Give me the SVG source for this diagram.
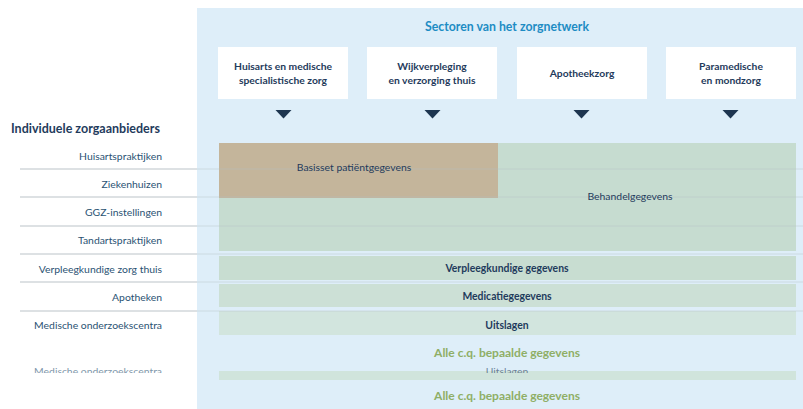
<svg xmlns="http://www.w3.org/2000/svg" width="803" height="409" viewBox="0 0 803 409">
<defs>
<style>
.hdr{font-family:Lato,"Open Sans",sans-serif;font-weight:bold;font-size:10.3px;fill:#1f3b5c;text-anchor:middle}
.row{font-family:Lato,"Open Sans",sans-serif;font-size:10.4px;fill:#2a5273;text-anchor:end}
.band{font-family:Lato,"Open Sans",sans-serif;font-size:10.4px;fill:#1f3b5c;text-anchor:middle}
.bandb{font-family:Lato,"Open Sans",sans-serif;font-size:10.4px;font-weight:bold;fill:#1f3b5c;text-anchor:middle}
.alle{font-family:Lato,"Open Sans",sans-serif;font-size:12px;font-weight:bold;fill:#8fae66;text-anchor:middle}
.box{fill:#ffffff}
.tri{fill:#1d3550}
.sep{stroke:#a9b4ba;stroke-width:0.8}
.sepf{stroke:#b5c2c8;stroke-width:0.8;opacity:0.55}
</style>
<clipPath id="ghost"><rect x="0" y="367" width="803" height="6"/></clipPath>
</defs>
<rect x="0" y="0" width="803" height="409" fill="#ffffff"/>
<rect id="panel" x="197" y="8" width="606" height="401" fill="#deeef9"/>
<text x="507" y="31" font-family="Lato,'Open Sans',sans-serif" font-size="12.3" font-weight="bold" fill="#1d8cc4" text-anchor="middle">Sectoren van het zorgnetwerk</text>
<g id="sector1"><rect class="box" x="218" y="47" width="130" height="52"/><text class="hdr" x="283" y="70">Huisarts en medische</text><text class="hdr" x="283" y="84">specialistische zorg</text><polygon class="tri" points="275.5,110 291.5,110 283.5,118.5"/></g>
<g id="sector2"><rect class="box" x="367" y="47" width="130" height="52"/><text class="hdr" x="432" y="70">Wijkverpleging</text><text class="hdr" x="432" y="84">en verzorging thuis</text><polygon class="tri" points="424.5,110 440.5,110 432.5,118.5"/></g>
<g id="sector3"><rect class="box" x="517" y="47" width="130" height="52"/><text class="hdr" x="582" y="77">Apotheekzorg</text><polygon class="tri" points="573.5,110 589.5,110 581.5,118.5"/></g>
<g id="sector4"><rect class="box" x="666" y="47" width="130" height="52"/><text class="hdr" x="731" y="70">Paramedische</text><text class="hdr" x="731" y="84">en mondzorg</text><polygon class="tri" points="722.5,110 738.5,110 730.5,118.5"/></g>
<text x="11" y="133" font-family="Lato,'Open Sans',sans-serif" font-size="12.5" font-weight="bold" fill="#1f3b5c">Individuele zorgaanbieders</text>
<g id="data">
<rect x="219" y="143" width="577" height="108" fill="#c6dcd0"/>
<rect x="219" y="143" width="279" height="55" fill="#c4b59b"/>
<rect x="219" y="256" width="577" height="24" fill="#c8ddd1"/>
<rect x="219" y="284" width="577" height="23" fill="#cce0d6"/>
<rect x="219" y="311" width="577" height="24" fill="#d2e5de"/>
<rect x="219" y="371" width="577" height="9" fill="#d0e4dc"/>
</g>
<g id="connectors">
<line class="sep" x1="20" y1="169" x2="197" y2="169"/>
<line class="sep" x1="20" y1="197" x2="197" y2="197"/>
<line class="sep" x1="20" y1="226" x2="197" y2="226"/>
<line class="sep" x1="20" y1="254" x2="197" y2="254"/>
<line class="sep" x1="20" y1="282" x2="197" y2="282"/>
<line class="sep" x1="20" y1="311" x2="197" y2="311"/>
<line class="sepf" x1="197" y1="169" x2="803" y2="169"/>
<line class="sepf" x1="197" y1="197" x2="803" y2="197"/>
<line class="sepf" x1="197" y1="226" x2="803" y2="226"/>
<line class="sepf" x1="197" y1="254" x2="803" y2="254"/>
<line class="sepf" x1="197" y1="282" x2="803" y2="282"/>
<line class="sepf" x1="197" y1="311" x2="803" y2="311"/>
</g>
<g id="labels">
<text class="row" x="162" y="160">Huisartspraktijken</text>
<text class="row" x="162" y="188">Ziekenhuizen</text>
<text class="row" x="162" y="216">GGZ-instellingen</text>
<text class="row" x="162" y="244">Tandartspraktijken</text>
<text class="row" x="162" y="273">Verpleegkundige zorg thuis</text>
<text class="row" x="162" y="301">Apotheken</text>
<text class="row" x="162" y="329">Medische onderzoekscentra</text>
<g clip-path="url(#ghost)" opacity="0.6"><text class="row" x="162" y="375">Medische onderzoekscentra</text><text class="band" x="507" y="375">Uitslagen</text></g>
</g>
<text class="band" x="354" y="171">Basisset patiëntgegevens</text>
<text class="band" x="630" y="200" fill="#3c6a86">Behandelgegevens</text>
<text class="bandb" x="507" y="272">Verpleegkundige gegevens</text>
<text class="bandb" x="507" y="300">Medicatiegegevens</text>
<text class="bandb" x="507" y="329">Uitslagen</text>
<text class="alle" x="507" y="357">Alle c.q. bepaalde gegevens</text>
<text class="alle" x="507" y="400">Alle c.q. bepaalde gegevens</text>
</svg>
